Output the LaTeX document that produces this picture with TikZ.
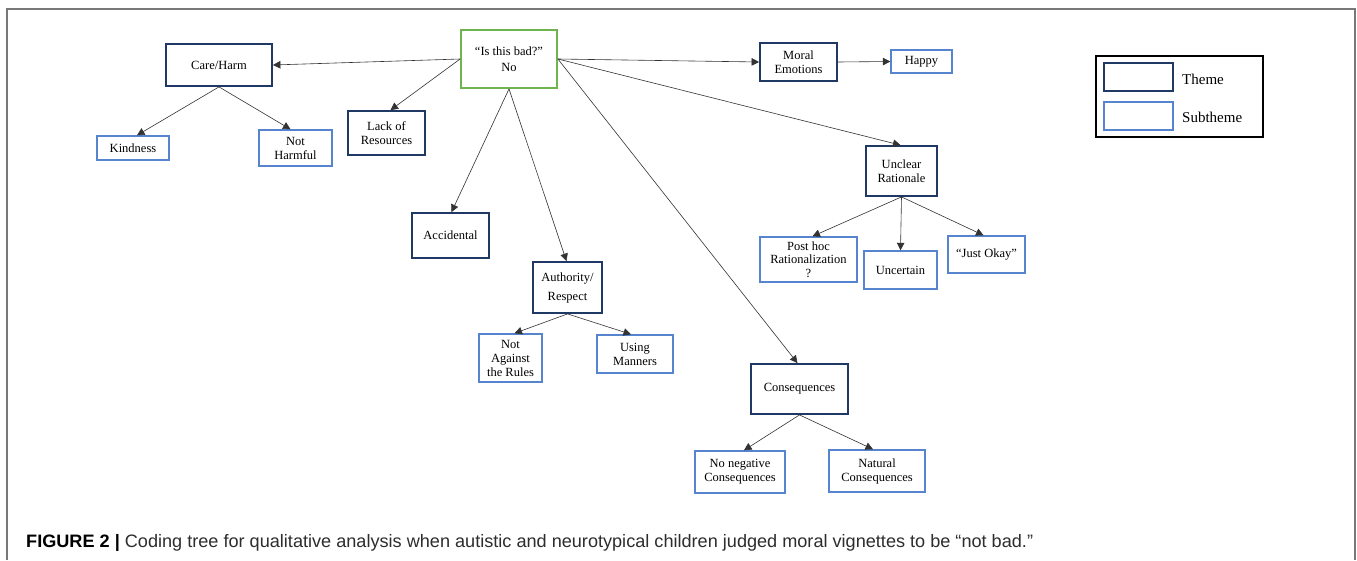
\documentclass[tikz,border=0pt]{standalone}
\usepackage{fontspec}
\usepackage{graphicx}
\setmainfont{Liberation Serif}
\newfontfamily\capfont{Liberation Sans}
\usetikzlibrary{arrows.meta}
\definecolor{navy}{RGB}{32,56,100}
\definecolor{lblue}{RGB}{86,132,206}
\definecolor{rgreen}{RGB}{112,180,80}
\definecolor{framegray}{RGB}{120,120,120}
\definecolor{captext}{RGB}{45,45,45}
\begin{document}
\begin{tikzpicture}[x=1pt,y=-1pt,
  box/.style={rectangle, inner sep=0pt, align=center, fill=white, text=black,
    font=\fontsize{12.5}{14}\selectfont},
  themebox/.style={box, draw=navy, line width=1.8pt},
  subbox/.style={box, draw=lblue, line width=1.4pt},
  rootbox/.style={box, draw=rgreen, line width=1.8pt},
  conn/.style={draw=black!80, line width=0.6pt, -{Triangle[length=7.5pt,width=7.5pt]}},
  legtext/.style={anchor=west, inner sep=0pt, font=\fontsize{15}{18}\selectfont}]
\useasboundingbox (0,0) rectangle (1357,560);
\fill[white] (0,0) rectangle (1357,560);
% frame
\draw[framegray, line width=1.6pt] (7,560) -- (7,9) -- (1355,9) -- (1355,560);

% nodes
\node[rootbox, minimum width=96pt, minimum height=58pt, font=\fontsize{12.5}{16}\selectfont] (root) at (509,59) {“Is this bad?”\\No};
\node[themebox, minimum width=106pt, minimum height=42pt] (care) at (219,65) {Care/Harm};
\node[subbox, minimum width=72pt, minimum height=24pt] (kind) at (133,148) {Kindness};
\node[subbox, minimum width=73pt, minimum height=36pt] (notharm) at (295.5,148) {Not\\Harmful};
\node[themebox, minimum width=77pt, minimum height=44pt] (lack) at (386.5,133) {Lack of\\Resources};
\node[themebox, minimum width=77pt, minimum height=45pt] (accid) at (450.5,235.5) {Accidental};
\node[themebox, minimum width=69pt, minimum height=51pt, font=\fontsize{12.5}{19}\selectfont] (auth) at (567.5,287.5) {Authority/\\Respect};
\node[subbox, minimum width=63pt, minimum height=48pt] (notagainst) at (510.5,358) {Not\\Against\\the Rules};
\node[subbox, minimum width=76pt, minimum height=38pt] (manners) at (635,354) {Using\\Manners};
\node[themebox, minimum width=77pt, minimum height=38pt] (moral) at (798.5,62) {Moral\\Emotions};
\node[subbox, minimum width=61pt, minimum height=23pt] (happy) at (921.5,61.5) {Happy};
\node[themebox, minimum width=71pt, minimum height=50pt] (unclear) at (901.5,171) {Unclear\\Rationale};
\node[subbox, minimum width=97pt, minimum height=45pt, font=\fontsize{12.5}{13.7}\selectfont] (posthoc) at (808.5,259.5) {Post hoc\\Rationalization\\?};
\node[subbox, minimum width=73pt, minimum height=38pt] (uncertain) at (900.5,270) {Uncertain};
\node[subbox, minimum width=77pt, minimum height=37pt] (justokay) at (986.5,254.5) {“Just Okay”};
\node[themebox, minimum width=97pt, minimum height=50pt] (conseq) at (799.5,389) {Consequences};
\node[subbox, minimum width=90pt, minimum height=42pt] (noneg) at (740,472) {No negative\\Consequences};
\node[subbox, minimum width=96pt, minimum height=42pt] (natural) at (877,471) {Natural\\Consequences};

% legend
\node[draw=black, line width=1.8pt, rectangle, inner sep=0pt, minimum width=167pt, minimum height=81pt] (legend) at (1179.5,96.5) {};
\node[themebox, minimum width=69pt, minimum height=28pt] (legtheme) at (1138.5,77) {};
\node[subbox, minimum width=69pt, minimum height=28pt] (legsub) at (1138.5,116) {};
\node[legtext] (legthemetext) at (1182,79) {Theme};
\node[legtext] (legsubtext) at (1182,117) {Subtheme};

% connectors
\draw[conn] (root.west) -- (care.east);
\draw[conn] (root.west) -- ([xshift=4pt]lack.north);
\draw[conn] (root.south) -- ([xshift=1pt]accid.north);
\draw[conn] (root.south) -- ([xshift=-1pt]auth.north);
\draw[conn] (root.east) -- (moral.west);
\draw[conn] (root.east) -- ([xshift=-1pt]unclear.north);
\draw[conn] (root.east) -- ([xshift=-2pt]conseq.north);
\draw[conn] (moral.east) -- (happy.west);
\draw[conn] (care.south) -- ([xshift=4pt]kind.north);
\draw[conn] (care.south) -- ([xshift=-5pt]notharm.north);
\draw[conn] (auth.south) -- ([xshift=4pt]notagainst.north);
\draw[conn] (auth.south) -- ([xshift=-4pt]manners.north);
\draw[conn] (unclear.south) -- ([xshift=4pt]posthoc.north);
\draw[conn] (unclear.south) -- (uncertain.north);
\draw[conn] (unclear.south) -- ([xshift=-3pt]justokay.north);
\draw[conn] (conseq.south) -- ([xshift=4pt]noneg.north);
\draw[conn] (conseq.south) -- ([xshift=-4pt]natural.north);

% caption
\node[anchor=base west, inner sep=0pt, text=captext, font=\capfont\fontsize{18}{21}\selectfont] (caption) at (26,547)
  {\resizebox{1007pt}{\height}{\textcolor{black}{\textbf{FIGURE 2 |}} Coding tree for qualitative analysis when autistic and neurotypical children judged moral vignettes to be “not bad.”}};
\end{tikzpicture}
\end{document}
